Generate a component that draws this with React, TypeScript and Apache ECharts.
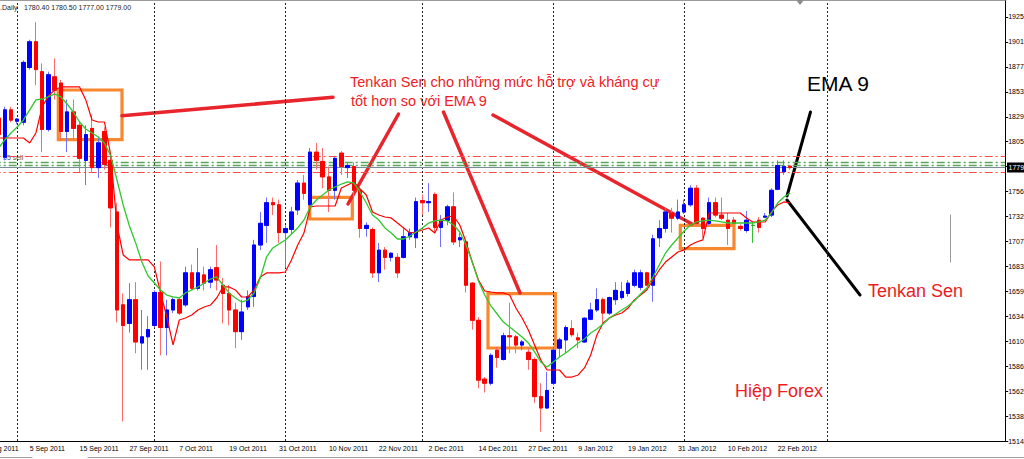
import React, { useEffect, useRef } from "react";
import * as echarts from "echarts";

// ---------- calendar ----------
const MONTHS = ["Jan", "Feb", "Mar", "Apr", "May", "Jun", "Jul", "Aug", "Sep", "Oct", "Nov", "Dec"];
const FIRST_TRADING_DAY = [2011, 7, 24]; // 24 Aug 2011
const MARKET_HOLIDAYS = ["2011-12-26", "2012-01-02"];
const HIDDEN_LEAD_BARS = 3; // 24, 25, 26 Aug 2011 (left of the visible window)
const TOTAL_SLOTS = 165; // bars + empty chart shift on the right
const GRID_COLUMN_SLOTS = [6, 28, 49, 71, 92, 113, 136];

// ---------- prices, 29 Aug 2011 .. 24 Feb 2012 ----------
const open = [1827, 1789, 1835, 1824, 1823, 1876, 1901, 1872, 1816, 1867, 1861, 1814, 1833, 1820, 1786, 1817, 1779, 1814, 1786, 1736,
  1646, 1628, 1651, 1609, 1615, 1626, 1658, 1624, 1641, 1651, 1646, 1677, 1662, 1675, 1668, 1682, 1665, 1657, 1641, 1620,
  1644, 1654, 1704, 1723, 1745, 1743, 1716, 1719, 1738, 1764, 1743, 1794, 1785, 1770, 1757, 1793, 1779, 1780, 1757, 1720,
  1719, 1677, 1699, 1692, 1692, 1692, 1712, 1711, 1747, 1745, 1753, 1721, 1728, 1741, 1709, 1707, 1667, 1631, 1574, 1570,
  1602, 1593, 1616, 1615, 1607, 1600, 1593, 1557, 1546, 1570, 1604, 1612, 1623, 1614, 1610, 1632, 1641, 1651, 1638, 1651,
  1653, 1657, 1665, 1663, 1677, 1665, 1711, 1720, 1735, 1730, 1736, 1743, 1759, 1730, 1725, 1745, 1733, 1728, 1728, 1722,
  1718, 1723, 1728, 1731, 1733, 1758, 1775, 1780.4];
const high = [1835, 1838, 1838, 1827, 1883, 1903, 1920, 1880, 1872, 1885, 1864, 1845, 1845, 1823, 1820, 1830, 1809, 1818, 1793, 1745,
  1657, 1667, 1668, 1641, 1635, 1660, 1688, 1651, 1653, 1653, 1683, 1685, 1701, 1683, 1683, 1704, 1672, 1665, 1648, 1651,
  1660, 1709, 1736, 1750, 1750, 1748, 1723, 1741, 1767, 1772, 1798, 1803, 1798, 1780, 1789, 1795, 1784, 1784, 1759, 1726,
  1721, 1706, 1702, 1697, 1696, 1720, 1720, 1750, 1753, 1764, 1755, 1733, 1743, 1755, 1716, 1709, 1668, 1634, 1576, 1599,
  1605, 1619, 1648, 1617, 1612, 1604, 1595, 1570, 1581, 1605, 1614, 1626, 1631, 1619, 1634, 1648, 1662, 1653, 1654, 1668,
  1668, 1670, 1680, 1680, 1678, 1714, 1728, 1740, 1740, 1748, 1748, 1762, 1762, 1731, 1750, 1750, 1750, 1735, 1731, 1724,
  1737, 1726, 1731, 1735, 1759, 1786, 1786, 1780.5];
const low = [1806, 1786, 1823, 1821, 1820, 1874, 1859, 1794, 1814, 1845, 1806, 1794, 1806, 1774, 1762, 1774, 1769, 1777, 1721, 1629,
  1533, 1619, 1599, 1583, 1583, 1624, 1597, 1597, 1638, 1636, 1644, 1660, 1660, 1660, 1662, 1660, 1628, 1626, 1604, 1612,
  1641, 1644, 1699, 1706, 1733, 1706, 1682, 1714, 1733, 1748, 1740, 1777, 1759, 1736, 1748, 1772, 1769, 1750, 1711, 1712,
  1672, 1668, 1680, 1688, 1672, 1691, 1709, 1701, 1733, 1736, 1716, 1702, 1723, 1704, 1702, 1658, 1622, 1565, 1561, 1568,
  1585, 1592, 1599, 1599, 1602, 1583, 1551, 1523, 1545, 1568, 1595, 1599, 1615, 1604, 1609, 1631, 1639, 1628, 1636, 1646,
  1651, 1654, 1663, 1660, 1665, 1649, 1702, 1716, 1716, 1728, 1734, 1741, 1723, 1711, 1723, 1731, 1728, 1704, 1723, 1718,
  1716, 1706, 1716, 1730, 1731, 1757, 1772, 1777];
const close = [1811, 1835, 1825, 1826, 1881, 1901, 1874, 1816, 1869, 1854, 1814, 1833, 1817, 1788, 1811, 1779, 1803, 1782, 1740, 1641,
  1626, 1651, 1610, 1615, 1622, 1658, 1624, 1641, 1651, 1638, 1677, 1662, 1677, 1667, 1680, 1670, 1657, 1641, 1620, 1639,
  1654, 1704, 1725, 1745, 1743, 1716, 1720, 1736, 1764, 1754, 1794, 1786, 1770, 1757, 1788, 1780, 1781, 1757, 1720, 1723,
  1677, 1699, 1692, 1696, 1677, 1712, 1716, 1746, 1745, 1746, 1721, 1728, 1741, 1707, 1711, 1665, 1631, 1573, 1570, 1597,
  1595, 1616, 1615, 1607, 1610, 1593, 1557, 1546, 1563, 1602, 1612, 1624, 1617, 1612, 1633, 1641, 1651, 1638, 1653, 1660,
  1659, 1667, 1677, 1677, 1665, 1710, 1720, 1736, 1730, 1736, 1743, 1759, 1725, 1720, 1745, 1733, 1730, 1720, 1725, 1720,
  1728, 1723, 1721, 1732, 1757, 1781, 1780, 1779];
// EMA 9 (green) and Tenkan Sen (red) as drawn on the chart
const ema9 = [1798.0, 1805.8, 1812.6, 1818.4, 1825.2, 1834.9, 1844.6, 1845.5, 1847.5, 1850.4, 1847.5, 1840.7, 1832.9, 1823.2, 1816.4, 1812.6, 1808.7, 1802.9, 1790.3, 1767.0,
  1742.8, 1722.4, 1706.0, 1687.5, 1673.9, 1667.2, 1660.4, 1655.5, 1653.6, 1652.6, 1657.5, 1660.4, 1663.3, 1667.2, 1671.0, 1673.0, 1665.2, 1657.5, 1652.6, 1648.7,
  1650.7, 1657.5, 1672.0, 1692.4, 1701.1, 1705.0, 1708.9, 1714.7, 1720.5, 1728.2, 1740.8, 1747.6, 1752.5, 1757.3, 1760.2, 1763.1, 1765.1, 1764.1, 1755.4, 1744.7,
  1733.1, 1728.2, 1720.5, 1715.6, 1709.8, 1709.8, 1712.7, 1716.6, 1720.5, 1725.3, 1727.3, 1728.2, 1727.3, 1723.4, 1716.6, 1704.0, 1687.5, 1669.1, 1655.5, 1644.9,
  1637.1, 1629.3, 1624.5, 1619.7, 1614.8, 1609.0, 1600.3, 1590.6, 1585.7, 1590.6, 1595.4, 1599.3, 1604.2, 1609.0, 1612.9, 1618.7, 1622.6, 1627.4, 1633.2, 1637.1,
  1641.0, 1644.9, 1649.7, 1656.5, 1662.3, 1673.0, 1684.6, 1696.2, 1704.0, 1710.8, 1717.6, 1723.4, 1726.3, 1727.3, 1728.2, 1727.3, 1726.3, 1725.3, 1725.3, 1725.3,
  1725.3, 1725.3, 1726.3, 1728.2, 1735.0, 1744.7, 1750.5, 1754.4];
const tenkan = [1807.7, 1807.7, 1807.7, 1807.7, 1807.7, 1802.9, 1812.6, 1837.8, 1848.4, 1854.3, 1857.2, 1857.2, 1857.2, 1857.2, 1844.6, 1825.2, 1823.2, 1823.2, 1791.2, 1723.4,
  1694.3, 1689.5, 1689.5, 1689.5, 1689.5, 1682.7, 1657.5, 1634.2, 1607.1, 1631.3, 1633.2, 1636.1, 1641.0, 1643.9, 1645.8, 1652.6, 1663.3, 1663.3, 1660.4, 1653.6,
  1653.6, 1660.4, 1673.0, 1676.9, 1676.9, 1676.9, 1677.8, 1689.5, 1704.0, 1715.6, 1740.8, 1741.8, 1741.8, 1741.8, 1741.8, 1759.2, 1762.2, 1765.1, 1758.3, 1752.5,
  1736.0, 1733.1, 1731.1, 1730.2, 1725.3, 1720.5, 1715.6, 1716.6, 1718.5, 1720.5, 1715.6, 1728.2, 1731.1, 1732.1, 1723.4, 1706.9, 1687.5, 1670.1, 1659.4, 1658.4,
  1657.5, 1657.5, 1655.5, 1642.9, 1633.2, 1621.6, 1607.1, 1592.5, 1582.8, 1582.8, 1582.8, 1576.0, 1576.0, 1578.0, 1584.8, 1597.4, 1616.8, 1628.4, 1633.2, 1636.1,
  1638.1, 1642.9, 1650.7, 1655.5, 1660.4, 1670.1, 1679.8, 1687.5, 1692.4, 1697.2, 1699.2, 1704.0, 1706.9, 1708.9, 1735.0, 1735.0, 1735.0, 1735.0, 1735.0, 1735.0,
  1730.2, 1726.3, 1726.3, 1726.3, 1736.0, 1742.8, 1745.7, 1744.7];

// ---------- price scale ----------
const Y_MIN = 1514;
const Y_MAX = 1940.5;
const Y_STEP = 24.176;
const Y_TICK_LABELS = ["1514", "1538", "1562", "1586", "1610", "1634", "1659", "1683", "1707", "1732", "1756", "", "1805", "1829", "1853", "1877", "1901", "1925"];
const BID = 1779.0;
const ORDER_LEVELS_RED = [1790.3, 1774.8];
const ORDER_LEVELS_GREEN = [1784.5, 1781.5];

function tradingDays(count: number): string[] {
  const out: string[] = [];
  const d = new Date(FIRST_TRADING_DAY[0], FIRST_TRADING_DAY[1], FIRST_TRADING_DAY[2]);
  while (out.length < count) {
    const wd = d.getDay();
    const iso = `${d.getFullYear()}-${String(d.getMonth() + 1).padStart(2, "0")}-${String(d.getDate()).padStart(2, "0")}`;
    if (wd !== 0 && wd !== 6 && !MARKET_HOLIDAYS.includes(iso)) {
      out.push(`${d.getDate()} ${MONTHS[d.getMonth()]} ${d.getFullYear()}`);
    }
    d.setDate(d.getDate() + 1);
  }
  return out;
}

const RED = "#ee1c24";
const ORANGE = "#f7882f";

export default function App() {
  const ref = useRef<HTMLDivElement>(null);

  useEffect(() => {
    if (!ref.current) return;
    const chart = echarts.init(ref.current, undefined, { renderer: "svg" });

    const barCount = HIDDEN_LEAD_BARS + open.length;
    const days = tradingDays(barCount);
    const categories = [...days];
    for (let k = barCount; k < TOTAL_SLOTS; k++) categories.push(`slot${k}`);

    const lead = Array.from({ length: HIDDEN_LEAD_BARS }, () => ["-", "-", "-", "-"]);
    const wickData = [...lead, ...open.map((o, i) => [o, close[i], low[i], high[i]])];
    const bodyData = [...lead, ...open.map((o, i) => [o, close[i], Math.min(o, close[i]), Math.max(o, close[i])])];
    const leadLine = Array.from({ length: HIDDEN_LEAD_BARS }, () => "-");

    const showDate = (idx: number) => idx < barCount && idx % 8 === 0;

    const dashDot = [8, 3, 2, 3];

    const page = (els: any[]) => ({ type: "group", x: 40, y: 0, z: 100, children: els });
    const txt = (text: string, x: number, y: number, size: number, fill: string, family = "Liberation Sans") => ({
      type: "text",
      x,
      y,
      style: { text, fill, font: `${size}px "${family}"`, textVerticalAlign: "middle", verticalAlign: "middle" },
    });
    const seg = (x1: number, y1: number, x2: number, y2: number, stroke: string, lineWidth: number) => ({
      type: "line",
      shape: { x1, y1, x2, y2 },
      style: { stroke, lineWidth, lineCap: "round" },
    });
    const box = (x: number, y: number, width: number, height: number) => ({
      type: "rect",
      shape: { x, y, width, height },
      style: { fill: "none", stroke: ORANGE, lineWidth: 3.2 },
    });

    const option: any = {
      animation: false,
      backgroundColor: "#ffffff",
      grid: { left: 16.7, right: 54.8, top: 1, bottom: 18 },
      xAxis: {
        type: "category",
        data: categories,
        boundaryGap: true,
        axisLine: { lineStyle: { color: "#000", width: 1 } },
        axisTick: { alignWithLabel: true, interval: (idx: number) => showDate(idx), length: 4, lineStyle: { color: "#000" } },
        axisLabel: {
          interval: (idx: number) => showDate(idx),
          align: "left",
          margin: 4,
          fontSize: 7,
          color: "#000",
          fontFamily: "Liberation Sans",
        },
        splitLine: { show: false },
      },
      yAxis: {
        type: "value",
        position: "right",
        min: Y_MIN,
        max: Y_MAX,
        interval: Y_STEP,
        axisLine: { show: true, lineStyle: { color: "#000", width: 1 } },
        axisTick: { show: true, length: 3, lineStyle: { color: "#000" } },
        axisLabel: {
          showMaxLabel: false,
          margin: 3,
          fontSize: 7,
          color: "#000",
          fontFamily: "Liberation Sans",
          formatter: (v: number) => {
            const n = Math.round((v - Y_MIN) / Y_STEP);
            if (Math.abs(Y_MIN + n * Y_STEP - v) > 0.5) return "";
            return Y_TICK_LABELS[n] ?? "";
          },
        },
        splitLine: { show: false },
      },
      series: [
        {
          name: "wicks",
          type: "candlestick",
          data: wickData,
          barWidth: 4,
          z: 2,
          itemStyle: {
            color: "#7070ff",
            color0: "#ff6a6a",
            borderColor: "#7070ff",
            borderColor0: "#ff6a6a",
            borderColorDoji: "#33c033",
            borderWidth: 1,
          },
          markLine: {
            silent: true,
            symbol: ["none", "none"],
            label: { show: false },
            z: 1,
            data: [
              ...GRID_COLUMN_SLOTS.map((k) => ({ xAxis: k, lineStyle: { color: "#222", type: [2, 2], width: 1 } })),
              ...ORDER_LEVELS_RED.map((v) => ({ yAxis: v, lineStyle: { color: "#ff4a4a", type: dashDot, width: 1 } })),
              ...ORDER_LEVELS_GREEN.map((v) => ({ yAxis: v, lineStyle: { color: "#5aa85a", type: dashDot, width: 1.3 } })),
              { yAxis: BID, lineStyle: { color: "#7d8a99", type: "solid", width: 1 } },
            ],
          },
        },
        {
          name: "bodies",
          type: "candlestick",
          data: bodyData,
          barWidth: 4,
          z: 3,
          itemStyle: {
            color: "#0000ff",
            color0: "#ff0000",
            borderColor: "#0000ff",
            borderColor0: "#ff0000",
            borderColorDoji: "#22b022",
            borderWidth: 1,
          },
        },
        {
          name: "Tenkan Sen",
          type: "line",
          data: [...leadLine, ...tenkan],
          symbol: "none",
          z: 4,
          lineStyle: { color: "#ff0000", width: 1.2 },
        },
        {
          name: "EMA 9",
          type: "line",
          data: [...leadLine, ...ema9],
          symbol: "none",
          z: 5,
          lineStyle: { color: "#2fc82f", width: 1.3 },
        },
      ],
      graphic: [
        page([
          seg(0, 0.5, 1006, 0.5, "#9a9a9a", 1),
          { type: "polygon", shape: { points: [[796, 0], [804, 0], [800, 5]] }, style: { fill: "#8c8c8c" } },
          txt(".Daily", 0, 7, 7, "#222"),
          txt("1780.40 1780.50 1777.00 1779.00", 24, 7, 7, "#222"),
          txt("55 sell", 3, 157, 7, "#555"),
          // current price tag on the axis
          { type: "rect", shape: { x: 1007, y: 162.5, width: 40, height: 10 }, style: { fill: "#000" } },
          txt("1779", 1008.5, 167.5, 7, "#fff"),
          // annotations
          box(58.3, 90, 63.7, 49.7),
          box(309.7, 197.3, 42.6, 21.7),
          box(488, 293.7, 67.3, 54.3),
          box(680.3, 225.3, 53.7, 23.4),
          seg(122, 115.7, 333, 97.2, "#e8242c", 3.5),
          seg(398.5, 114, 348, 204, "#e8242c", 3.5),
          seg(443.5, 112, 520, 293, "#e8242c", 3.5),
          seg(493, 115, 692, 224, "#e8242c", 3.5),
          seg(810.5, 112, 787, 196, "#000", 3),
          seg(787, 200, 860, 295, "#000", 3),
          seg(950.5, 215, 950.5, 262, "#999", 1),
          txt("Tenkan Sen cho những mức hỗ trợ và kháng cự", 350, 82, 14.5, RED),
          txt("tốt hơn so với EMA 9", 351, 101, 14.5, RED),
          txt("EMA 9", 807, 83, 21, "#000"),
          txt("Tenkan Sen", 868, 291, 18, RED),
          txt("Hiệp Forex", 735, 391, 18, RED),
          // terminal tab strip
          seg(0, 457.5, 32, 457.5, "#a0a0a0", 1),
          seg(88, 457.5, 1024, 457.5, "#a0a0a0", 1),
        ]),
      ],
    };

    chart.setOption(option);
    return () => chart.dispose();
  }, []);

  return (
    <div style={{ position: "fixed", left: 0, top: 0, width: 1024, height: 459, overflow: "hidden", background: "#fff" }}>
      <div ref={ref} style={{ position: "absolute", left: -40, top: 0, width: 1100, height: 459 }} />
    </div>
  );
}
